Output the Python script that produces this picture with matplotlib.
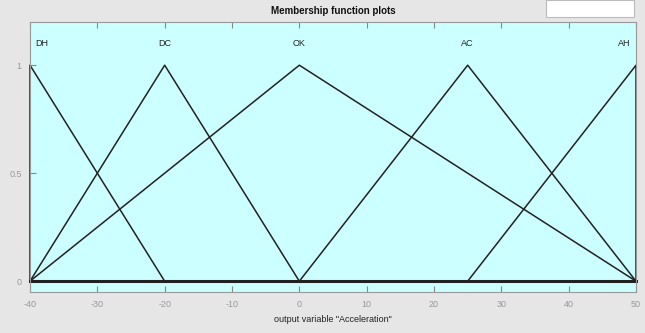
import matplotlib.pyplot as plt
from matplotlib.patches import Rectangle

# membership functions of the output variable (x points, y points)
mf_names = ['DH', 'DC', 'OK', 'AC', 'AH']
mf_x = [[-40, -40, -20], [-40, -20, 0], [-40, 0, 50], [0, 25, 50], [25, 50, 50]]
mf_y = [[0, 1, 0], [0, 1, 0], [0, 1, 0], [0, 1, 0], [0, 1, 0]]
mf_peak = [-40, -20, 0, 25, 50]

x_ticks = [-40, -30, -20, -10, 0, 10, 20, 30, 40, 50]
y_ticks = [0, 0.5, 1]

plt.rcParams['font.family'] = ['Liberation Sans Narrow', 'Liberation Sans', 'DejaVu Sans']
plt.rcParams['axes.unicode_minus'] = False

fig = plt.figure(figsize=(6.45, 3.33), dpi=100, facecolor='#e6e6e6')
ax = fig.add_axes([30 / 645, 1 - 292 / 333, 606 / 645, 270 / 333])
ax.set_facecolor('#ccffff')

for xs, ys in zip(mf_x, mf_y):
    ax.plot(xs, ys, color='#222222', lw=1.1, clip_on=False)
ax.plot([-40, 50], [0, 0], color='#222222', lw=2.2, clip_on=False)

for name, px in zip(mf_names, mf_peak):
    ha = 'center'
    dx = 0
    if px == -40:
        ha, dx = 'left', 0.8
    elif px == 50:
        ha, dx = 'right', -0.8
    ax.text(px + dx, 1.1, name, ha=ha, va='center', fontsize=6.5, color='#222222')

ax.set_xlim(-40, 50)
ax.set_ylim(-0.05, 1.2)
ax.set_xticks(x_ticks)
ax.set_yticks(y_ticks)
ax.set_yticklabels(['0', '0.5', '1'])
ax.tick_params(direction='in', length=4, color='#888888', labelcolor='#999999',
               labelsize=6.5, top=True, pad=6)
for s in ax.spines.values():
    s.set_color('#999999')
    s.set_linewidth(0.8)

ax.set_xlabel('output variable "Acceleration"', fontsize=6.5, color='#222222', labelpad=4)
ax.set_title('Membership function plots', fontsize=7, fontweight='bold',
             color='#111111', pad=6)

# small white box in the upper right corner
fig.patches.append(Rectangle((546 / 645, 1 - 17 / 333), 88 / 645, 17 / 333,
                             transform=fig.transFigure, facecolor='white',
                             edgecolor='#bbbbbb', lw=0.8))

fig.savefig('out.png', dpi=100, facecolor=fig.get_facecolor())
